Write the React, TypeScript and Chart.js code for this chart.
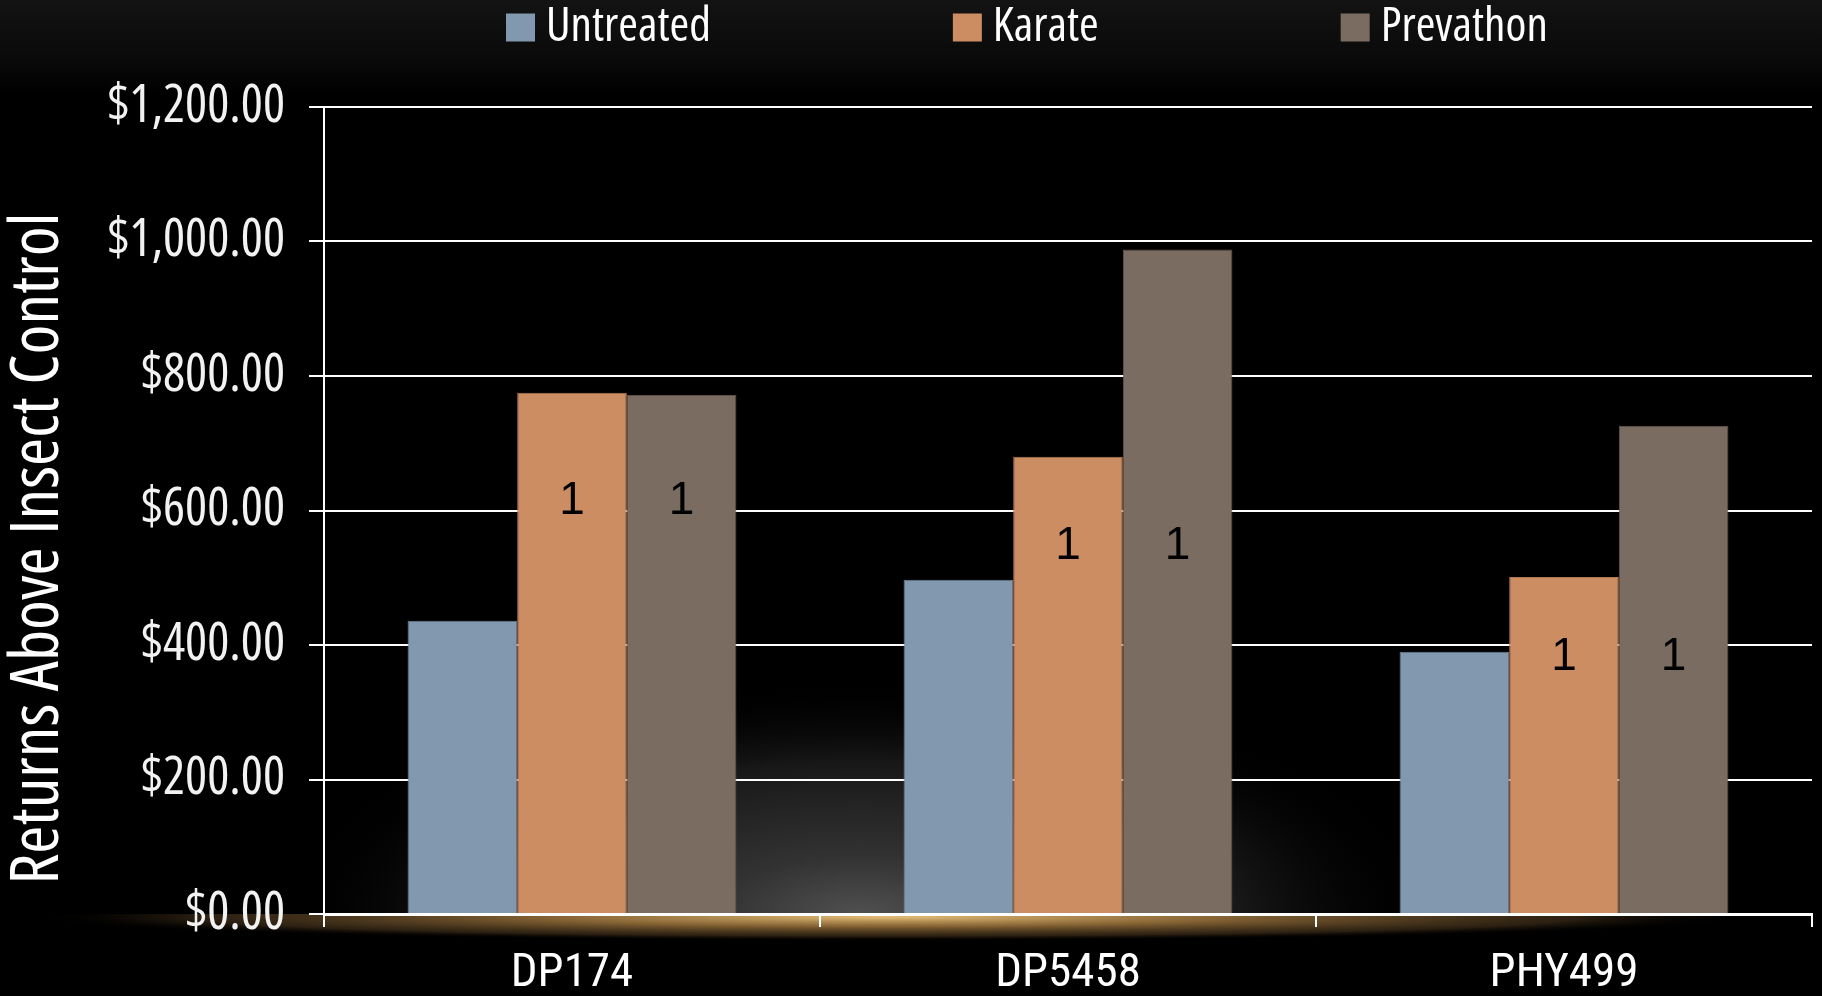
import React, { useEffect, useRef } from 'react';
import { Chart, registerables } from 'chart.js';

Chart.register(...registerables);

// ---- data ----
const categories = ['DP174', 'DP5458', 'PHY499'];
const seriesNames = ['Untreated', 'Karate', 'Prevathon'];
const untreated = [436, 497, 390];
const karate = [775, 680, 501];
const prevathon = [772, 988, 726];
const karateMarks = ['1', '1', '1'];
const prevathonMarks = ['1', '1', '1'];
const markLevels = [613, 547, 381];
const yTicks = [0, 200, 400, 600, 800, 1000, 1200];
const yTitle = 'Returns Above Insect Control';

// ---- styles ----
const seriesColors = ['#8198ae', '#cd8d62', '#7b6c62'];
const seriesBorders = ['#6f8397', '#b27a52', '#665850'];
const COND = '"Open Sans", "Liberation Sans", sans-serif';
const ROBO = 'Roboto, "Open Sans", sans-serif';
const REGULAR = '"Liberation Sans", Arial, sans-serif';

const fmt = (v: number) =>
  '$' + Number(v).toLocaleString('en-US', { minimumFractionDigits: 2, maximumFractionDigits: 2 });

export default function App() {
  const ref = useRef<HTMLCanvasElement>(null);

  useEffect(() => {
    document.body.style.margin = '0';
    document.body.style.background = '#000';
    const canvas = ref.current!;

    const decor = {
      id: 'decor',
      beforeDraw(chart: any) {
        const { ctx, width, height, chartArea: ca } = chart;
        ctx.save();
        ctx.fillStyle = '#000';
        ctx.fillRect(0, 0, width, height);
        const g = ctx.createLinearGradient(0, 0, 0, 95);
        g.addColorStop(0, '#131313');
        g.addColorStop(0.6, '#0a0a0a');
        g.addColorStop(1, '#000');
        ctx.fillStyle = g;
        ctx.fillRect(0, 0, width, 95);

        // gray spotlight behind bars
        ctx.save();
        ctx.beginPath();
        ctx.rect(ca.left, ca.top, ca.right - ca.left, ca.bottom - ca.top);
        ctx.clip();
        const cx = ca.left + (ca.right - ca.left) * 0.36;
        ctx.translate(cx, ca.bottom);
        ctx.scale(1, 0.4);
        const rg = ctx.createRadialGradient(0, 0, 0, 0, 0, 580);
        rg.addColorStop(0, 'rgba(80,80,80,1)');
        rg.addColorStop(0.25, 'rgba(50,50,50,1)');
        rg.addColorStop(0.65, 'rgba(24,24,24,1)');
        rg.addColorStop(1, 'rgba(0,0,0,0)');
        ctx.fillStyle = rg;
        ctx.fillRect(-590, -590, 1180, 590);
        ctx.restore();

        // golden glow under the axis
        ctx.save();
        ctx.beginPath();
        ctx.rect(0, ca.bottom, width, 40);
        ctx.clip();
        ctx.translate(ca.left + (ca.right - ca.left) * 0.38, ca.bottom + 3);
        ctx.scale(1, 24 / 860);
        const gg = ctx.createRadialGradient(0, 0, 0, 0, 0, 860);
        gg.addColorStop(0, 'rgba(240,200,125,0.95)');
        gg.addColorStop(0.4, 'rgba(175,130,68,0.75)');
        gg.addColorStop(0.8, 'rgba(95,70,38,0.45)');
        gg.addColorStop(1, 'rgba(0,0,0,0)');
        ctx.fillStyle = gg;
        ctx.fillRect(-870, -870, 1740, 1740);
        ctx.restore();
        ctx.restore();
      },
      afterDatasetsDraw(chart: any) {
        const { ctx } = chart;
        const y = chart.scales.y;
        ctx.save();
        ctx.font = `46px ${REGULAR}`;
        ctx.fillStyle = '#000';
        ctx.textAlign = 'center';
        ctx.textBaseline = 'middle';
        const sets: [number, string[]][] = [[1, karateMarks], [2, prevathonMarks]];
        sets.forEach(([di, marks]) => {
          const meta = chart.getDatasetMeta(di);
          meta.data.forEach((bar: any, i: number) => {
            ctx.fillText(marks[i], bar.x, y.getPixelForValue(markLevels[i]));
          });
        });
        ctx.restore();
      },
      afterDraw(chart: any) {
        const { ctx, chartArea: ca } = chart;
        ctx.save();
        // legend
        ctx.font = `condensed 47.5px ${COND}`;
        ctx.textBaseline = 'middle';
        ctx.textAlign = 'left';
        let x = 506;
        seriesNames.forEach((name, i) => {
          ctx.fillStyle = seriesColors[i];
          ctx.fillRect(x, 13.5, 29, 28);
          ctx.fillStyle = '#ffffff';
          ctx.fillText(name, x + 40, 27.5);
          x += 40 + ctx.measureText(name).width + 242;
        });
        // y-axis title
        ctx.translate(38.5, (ca.top + ca.bottom) / 2 + 38);
        ctx.rotate(-Math.PI / 2);
        ctx.font = `condensed 68px ${COND}`;
        ctx.textAlign = 'center';
        ctx.fillStyle = '#ffffff';
        ctx.fillText(yTitle, 0, 0);
        ctx.restore();
      },
    };

    const chart = new Chart(canvas, {
      type: 'bar',
      data: {
        labels: categories,
        datasets: [untreated, karate, prevathon].map((d, i) => ({
          label: seriesNames[i],
          data: d,
          backgroundColor: seriesColors[i],
          borderColor: seriesBorders[i],
          borderWidth: 1,
          barPercentage: 1,
          categoryPercentage: 0.663,
        })),
      },
      options: {
        animation: false,
        responsive: true,
        maintainAspectRatio: false,
        layout: { padding: { top: 107, right: 10, bottom: 0, left: 0 } },
        plugins: {
          legend: { display: false },
          tooltip: { enabled: false },
        },
        scales: {
          x: {
            grid: {
              drawOnChartArea: false,
              drawTicks: true,
              tickLength: 13,
              color: '#ffffff',
              lineWidth: 2,
            },
            border: { display: true, color: '#ffffff', width: 3 },
            ticks: {
              color: '#ffffff',
              font: { family: ROBO, size: 47, weight: 'condensed' as any },
              padding: 19,
              maxRotation: 0,
            },
            afterFit: (s: any) => {
              s.height = 82;
            },
          },
          y: {
            min: 0,
            max: 1200,
            afterBuildTicks: (s: any) => {
              s.ticks = yTicks.map((v) => ({ value: v }));
            },
            grid: {
              color: '#ffffff',
              lineWidth: 2,
              tickLength: 15,
              drawTicks: true,
            },
            border: { display: true, color: '#ffffff', width: 2 },
            ticks: {
              color: '#f2f2f2',
              font: { family: COND, size: 52, weight: 'condensed' as any },
              padding: 24,
              callback: (v: any) => fmt(v),
            },
            afterFit: (s: any) => {
              s.width = 324;
            },
          },
        },
      },
      plugins: [decor],
    });

    return () => chart.destroy();
  }, []);

  return (
    <div style={{ width: '1822px', height: '996px', position: 'relative', background: '#000' }}>
      <canvas ref={ref} />
    </div>
  );
}
